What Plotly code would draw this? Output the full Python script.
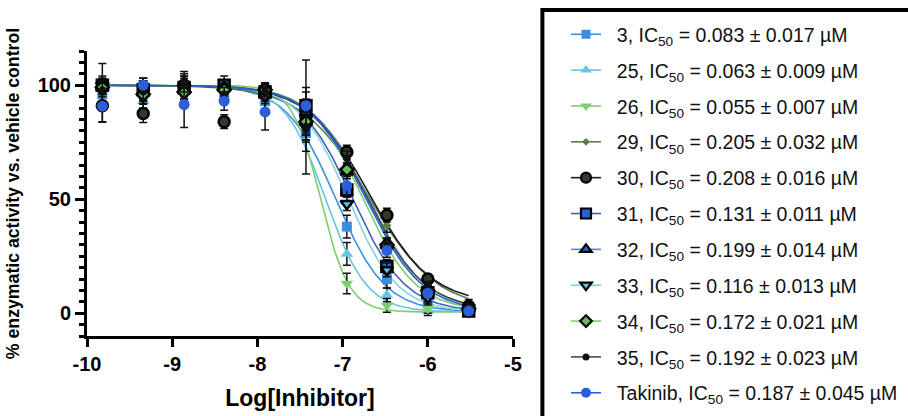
import numpy as np
import plotly.graph_objects as go

# ---- data ----
log_conc = [-9.82, -9.34, -8.86, -8.39, -7.91, -7.43, -6.95, -6.48, -6.00, -5.52]
x_ticks = [-10, -9, -8, -7, -6, -5]
x_tick_labels = ["-10", "-9", "-8", "-7", "-6", "-5"]
y_ticks = [0, 50, 100]

names = ["3", "25", "26", "29", "30", "31", "32", "33", "34", "35", "Takinib"]
ic50 = [0.083, 0.063, 0.055, 0.205, 0.208, 0.131, 0.199, 0.116, 0.172, 0.192, 0.187]
ic50_err = [0.017, 0.009, 0.007, 0.032, 0.016, 0.011, 0.014, 0.013, 0.021, 0.023, 0.045]
hill = [1.5, 1.8, 2.6, 1.1, 1.2, 1.4, 1.3, 1.5, 1.4, 1.3, 1.3]
bottom = [0.5, 0.5, 0.5, 1.5, 4.0, 0.5, 1.0, 0.5, 1.0, 1.5, 0.5]

act_3 = [96, 100, 98, 97, 93, 79, 38, 15, 5, 1]
act_25 = [99, 93, 100, 95, 93.5, 83, 26, 8, 1, 1]
act_26 = [101, 96, 96, 99, 98, 85, 13, 3.4, 2, 0.5]
act_29 = [100, 99, 99, 98, 97, 84, 69, 38.5, 13, 4]
act_30 = [91, 87.6, 100, 84, 98, 86, 70.7, 43, 15, 3]
act_31 = [100, 98, 99, 100, 97, 91, 54, 20.5, 9, 1]
act_32 = [99, 97, 101, 99, 96, 88, 62, 29.7, 10, 2]
act_33 = [100, 95, 99, 97, 95, 82, 48, 19, 7, 1]
act_34 = [99, 96, 97, 98, 98, 84, 63, 30, 10, 2]
act_35 = [98, 97, 100, 96, 98, 82, 68, 30, 12, 2]
act_tak = [90.8, 100, 91.5, 93, 88.3, 91, 56, 27.5, 8.7, 1]

sd_3 = [4, 3, 3, 3, 4, 18, 5, 4, 2, 2]
sd_25 = [3, 3, 4, 3, 5, 8, 5, 3, 2, 2]
sd_26 = [3, 3, 3, 3, 3, 6, 4.5, 3, 2, 1]
sd_29 = [3, 3, 3, 3, 3, 6, 3, 3, 2, 2]
sd_30 = [7, 4, 6, 3, 3, 6, 3, 3, 2, 2]
sd_31 = [9.5, 5, 6, 4, 3, 8, 3, 3, 2, 2]
sd_32 = [3, 3, 3, 3, 3, 6, 3, 3, 2, 2]
sd_33 = [3, 3, 3, 3, 3, 6, 3, 3, 2, 2]
sd_34 = [3, 3, 3, 3, 3, 6, 3, 3, 2, 2]
sd_35 = [3, 3, 3, 3, 3, 6, 3, 3, 2, 2]
sd_tak = [7, 3, 10, 4, 8, 20, 4, 3, 2, 2]

acts = [act_3, act_25, act_26, act_29, act_30, act_31, act_32, act_33, act_34, act_35, act_tak]
sds = [sd_3, sd_25, sd_26, sd_29, sd_30, sd_31, sd_32, sd_33, sd_34, sd_35, sd_tak]

# ---- styles ----
line_colors = ["#3a8fe2", "#67c5df", "#7ccf6c", "#5d7d4c", "#1c1c1c", "#3d62b8",
               "#5189d6", "#86d2dd", "#7ccf6c", "#44523a", "#2b5ed8"]
fill_colors = ["#3a8fe2", "#67c5df", "#7ccf6c", "#5d7d4c", "#2e3b2b", "#2c5fd8",
               "#2c5fd0", "#5fc3de", "#66bd55", "#111111", "#2b5ed8"]
outline = ["#3a8fe2", "#67c5df", "#7ccf6c", "#5d7d4c", "#000000", "#000000",
           "#000000", "#000000", "#000000", "#111111", "#2b5ed8"]
symbols = ["square", "triangle-up", "triangle-down", "diamond", "circle", "square",
           "triangle-up", "triangle-down", "diamond", "circle", "circle"]
sizes = [10, 11, 11, 7, 11, 11, 11, 11, 10, 7, 11]
owidth = [0, 0, 0, 0, 2.5, 2.5, 2.5, 2.5, 2.5, 0, 0]
leg_sizes = [9, 10, 10, 6, 10, 10, 10, 10, 9, 7, 10]
leg_owidth = [0, 0, 0, 0, 2.2, 2.2, 2.2, 2.2, 2.2, 0, 0]

FONT = "Liberation Sans, Arial, sans-serif"

fig = go.Figure()
xc = np.linspace(min(log_conc), max(log_conc), 300)
for i, nm in enumerate(names):
    logic = np.log10(ic50[i] * 1e-6)
    yc = bottom[i] + (100 - bottom[i]) / (1 + 10 ** ((xc - logic) * hill[i]))
    fig.add_trace(go.Scatter(x=xc, y=yc, mode="lines", showlegend=False,
                             line=dict(color=line_colors[i], width=1.6), hoverinfo="skip"))
for i, nm in enumerate(names):
    fig.add_trace(go.Scatter(
        x=log_conc, y=acts[i], mode="markers", showlegend=False,
        marker=dict(symbol=symbols[i], size=sizes[i], color=fill_colors[i],
                    line=dict(color=outline[i], width=owidth[i])),
        error_y=dict(type="data", array=sds[i], color="#111111", thickness=1.5, width=4)))
for i, nm in enumerate(names):
    label = "\u00a0\u00a0" + f"{nm}, IC<sub>50</sub> = {ic50[i]:.3f} ± {ic50_err[i]:.3f} µM"
    fig.add_trace(go.Scatter(
        x=[None], y=[None], mode="lines+markers", name=label, legendgroup=f"g{i}",
        line=dict(color=line_colors[i], width=1.6),
        marker=dict(symbol=symbols[i], size=leg_sizes[i], color=fill_colors[i],
                    line=dict(color=outline[i], width=leg_owidth[i]))))

fig.add_shape(type="rect", xref="paper", yref="paper", x0=1.069, x1=2.0, y0=-0.35, y1=1.144,
              line=dict(color="black", width=4), fillcolor="rgba(0,0,0,0)", layer="below")

fig.update_layout(
    width=908, height=416,
    margin=dict(l=87, r=395, t=51, b=80, autoexpand=False),
    plot_bgcolor="white", paper_bgcolor="white",
    font=dict(family=FONT, color="black"),
    legend=dict(x=1.1244, y=1.126, xanchor="left", yanchor="top", maxheight=800,
                font=dict(size=19.5, family=FONT, color="#111111"),
                tracegroupgap=7.5, bgcolor="rgba(0,0,0,0)"),
    xaxis=dict(range=[-10, -5], tickvals=x_ticks, ticktext=x_tick_labels, automargin=False,
               showgrid=False, zeroline=False,
               showline=True, linecolor="black", linewidth=3, ticks="outside",
               ticklen=8, tickwidth=3, tickcolor="black",
               tickfont=dict(family=FONT, size=20, color="black", weight="bold"),
               title=dict(text="<b>Log[Inhibitor]</b>", font=dict(size=23), standoff=16)),
    yaxis=dict(range=[-10, 115], tickvals=y_ticks, showgrid=False, zeroline=False, automargin=False,
               showline=True, linecolor="black", linewidth=3, ticks="outside",
               ticklen=9, tickwidth=3, tickcolor="black",
               minor=dict(dtick=5, tick0=0, ticks="outside", ticklen=5, tickwidth=2.5, tickcolor="black"),
               tickfont=dict(family=FONT, size=20, color="black", weight="bold"),
               title=dict(text="<b>% enzymatic activity vs. vehicle control</b>", font=dict(size=17.7), standoff=14)),
)
fig.write_html("out.html")
